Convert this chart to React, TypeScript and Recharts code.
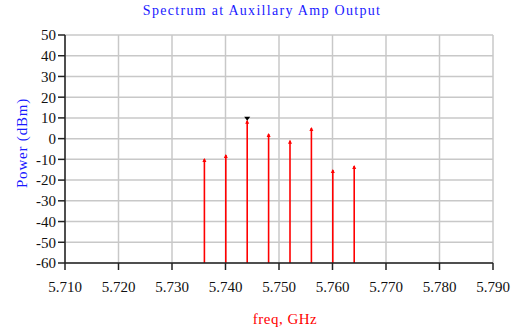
import { Bar, CartesianGrid, ComposedChart, XAxis, YAxis } from 'recharts'

const freqs = [5.736, 5.74, 5.744, 5.748, 5.752, 5.756, 5.76, 5.764]
const power = [-9.8, -7.9, 8.6, 2.2, -1.0, 5.1, -15.1, -13.2]
const freqTicks = [5.71, 5.72, 5.73, 5.74, 5.75, 5.76, 5.77, 5.78, 5.79]
const powerTicks = [50, 40, 30, 20, 10, 0, -10, -20, -30, -40, -50, -60]
const markerIndex = 2

const FLOOR = -60
const FONT = '"Liberation Serif", "Times New Roman", serif'

const data = freqs.map((f, i) => ({ freq: f, power: power[i] }))

function Stem(props: any) {
  const { x, y, width, height, index } = props
  const cx = x + width / 2
  return (
    <g>
      <line x1={cx} x2={cx} y1={y} y2={y + height} stroke="#ff0000" strokeWidth={1.6} />
      <path d={`M${cx - 2},${y + 3} L${cx},${y - 1} L${cx + 2},${y + 3} Z`} fill="#ff0000" />
      {index === markerIndex && (
        <path d={`M${cx - 3},${y - 4} L${cx + 3},${y - 4} L${cx},${y} Z`} fill="#000" />
      )}
    </g>
  )
}

export default function App() {
  return (
    <div style={{ position: 'absolute', left: 0, top: 0, width: 520, height: 329, background: '#fff' }}>
      <div
        style={{
          position: 'absolute',
          left: 0,
          width: 524,
          top: 3,
          textAlign: 'center',
          color: '#1a1aff',
          fontFamily: FONT,
          fontSize: 14,
          letterSpacing: 1.3,
        }}
      >
        Spectrum at Auxillary Amp Output
      </div>
      <div
        style={{
          position: 'absolute',
          left: 0,
          width: 570,
          top: 311,
          textAlign: 'center',
          color: '#ff0000',
          fontFamily: FONT,
          fontSize: 15,
          letterSpacing: 0.5,
        }}
      >
        freq, GHz
      </div>
      <div
        style={{
          position: 'absolute',
          left: 22,
          top: 143,
          transform: 'translate(-50%, -50%) rotate(-90deg)',
          color: '#1a1aff',
          fontFamily: FONT,
          fontSize: 15,
          letterSpacing: 0.8,
          whiteSpace: 'nowrap',
        }}
      >
        Power (dBm)
      </div>
      <ComposedChart
        width={520}
        height={329}
        data={data}
        margin={{ top: 35, right: 27, bottom: 0, left: 0 }}
        style={{ position: 'absolute', left: 0, top: 0 }}
      >
        <CartesianGrid xAxisId="main" yAxisId="main" stroke="#c8c8c8" strokeWidth={1.5} />
        <XAxis
          xAxisId="main"
          dataKey="freq"
          type="number"
          domain={[5.71, 5.79]}
          ticks={freqTicks}
          tickFormatter={(v: number) => v.toFixed(3)}
          interval={0}
          height={66}
          stroke="#222"
          strokeWidth={1.5}
          tickSize={7}
          tick={{ fill: '#111', fontFamily: FONT, fontSize: 15, dy: 9 }}
        />
        <XAxis
          xAxisId="top"
          orientation="top"
          type="number"
          domain={[5.71, 5.79]}
          height={0}
          tick={false}
          tickLine={false}
          stroke="#222"
          strokeWidth={1.5}
        />
        <YAxis
          yAxisId="main"
          type="number"
          domain={[FLOOR, 50]}
          ticks={powerTicks}
          interval={0}
          width={65}
          stroke="#222"
          strokeWidth={1.5}
          tickSize={7}
          tick={{ fill: '#111', fontFamily: FONT, fontSize: 15 }}
        />
        <YAxis
          yAxisId="right"
          orientation="right"
          type="number"
          domain={[FLOOR, 50]}
          width={0}
          tick={false}
          tickLine={false}
          stroke="#222"
          strokeWidth={1.5}
        />
        <Bar
          xAxisId="main"
          yAxisId="main"
          dataKey={(d: any) => [FLOOR, d.power]}
          barSize={2}
          shape={Stem}
          isAnimationActive={false}
        />
      </ComposedChart>
    </div>
  )
}
